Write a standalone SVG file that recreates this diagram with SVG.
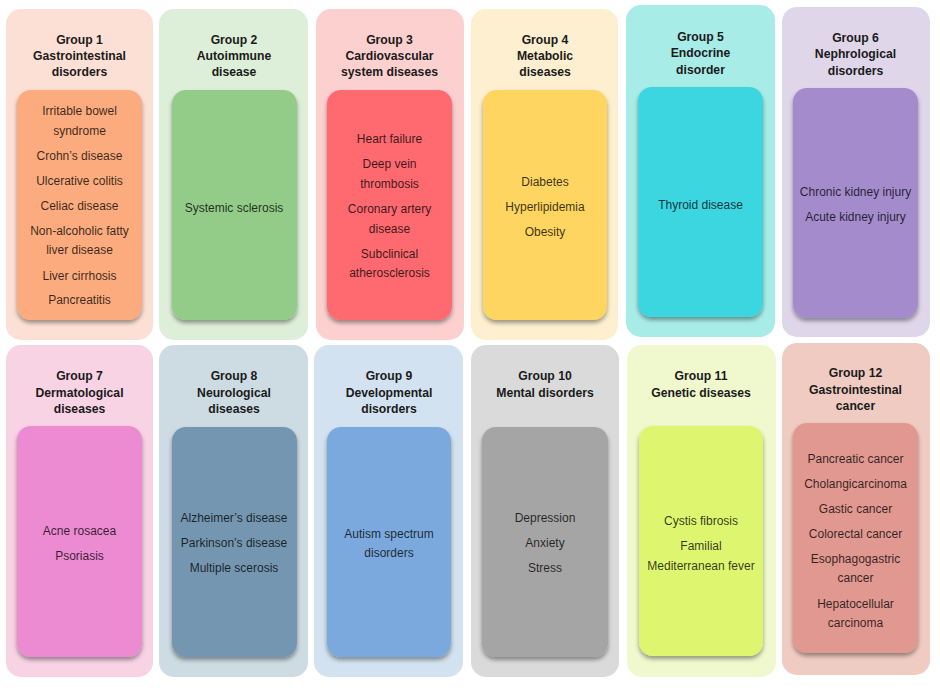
<svg xmlns="http://www.w3.org/2000/svg" width="940" height="688" viewBox="0 0 940 688">
<style>
.outer{stroke:none}
.inner{filter:url(#sh)}
text{font-family:"Liberation Sans",Arial,sans-serif;text-anchor:middle;dominant-baseline:central}
.t{font-weight:bold;font-size:12.2px;fill:#1a1a1a}
.b{font-size:12px;fill:#000;fill-opacity:0.78}
</style>
<defs>
<filter id="sh" x="-10%" y="-10%" width="120%" height="120%">
<feDropShadow dx="0" dy="3" stdDeviation="2" flood-color="#000" flood-opacity="0.38"/>
</filter>
</defs>
<rect width="940" height="688" fill="#ffffff"/>

<g id="g1">
<rect class="outer" x="6" y="9" width="147" height="331" rx="15" fill="#fde0d5"/>
<rect class="inner" x="17" y="90" width="125" height="230" rx="14" fill="#fbab7d"/>
<text class="t" x="79.5" y="40">Group 1</text>
<text class="t" x="79.5" y="56">Gastrointestinal</text>
<text class="t" x="79.5" y="72">disorders</text>
<text class="b" x="79.5" y="111">Irritable bowel</text>
<text class="b" x="79.5" y="131">syndrome</text>
<text class="b" x="79.5" y="156">Crohn’s disease</text>
<text class="b" x="79.5" y="181">Ulcerative colitis</text>
<text class="b" x="79.5" y="206">Celiac disease</text>
<text class="b" x="79.5" y="231">Non-alcoholic fatty</text>
<text class="b" x="79.5" y="250">liver disease</text>
<text class="b" x="79.5" y="276">Liver cirrhosis</text>
<text class="b" x="79.5" y="300">Pancreatitis</text>
</g>

<g id="g2">
<rect class="outer" x="159" y="9" width="149" height="331" rx="15" fill="#ddefd9"/>
<rect class="inner" x="172" y="90" width="125" height="230" rx="14" fill="#93cb88"/>
<text class="t" x="234" y="40">Group 2</text>
<text class="t" x="234" y="56">Autoimmune</text>
<text class="t" x="234" y="72">disease</text>
<text class="b" x="234" y="208">Systemic sclerosis</text>
</g>

<g id="g3">
<rect class="outer" x="316" y="9" width="148" height="331" rx="15" fill="#fdd0d0"/>
<rect class="inner" x="327" y="90" width="125" height="230" rx="14" fill="#fe6a6f"/>
<text class="t" x="389.5" y="40">Group 3</text>
<text class="t" x="389.5" y="56">Cardiovascular</text>
<text class="t" x="389.5" y="72">system diseases</text>
<text class="b" x="389.5" y="139">Heart failure</text>
<text class="b" x="389.5" y="164">Deep vein</text>
<text class="b" x="389.5" y="184">thrombosis</text>
<text class="b" x="389.5" y="209">Coronary artery</text>
<text class="b" x="389.5" y="229">disease</text>
<text class="b" x="389.5" y="254">Subclinical</text>
<text class="b" x="389.5" y="273">atherosclerosis</text>
</g>

<g id="g4">
<rect class="outer" x="471" y="9" width="147" height="331" rx="15" fill="#fdefcf"/>
<rect class="inner" x="483" y="90" width="124" height="230" rx="14" fill="#fdd561"/>
<text class="t" x="545" y="40">Group 4</text>
<text class="t" x="545" y="56">Metabolic</text>
<text class="t" x="545" y="72">diseases</text>
<text class="b" x="545" y="182">Diabetes</text>
<text class="b" x="545" y="207">Hyperlipidemia</text>
<text class="b" x="545" y="232">Obesity</text>
</g>

<g id="g5">
<rect class="outer" x="626" y="5" width="149" height="332" rx="15" fill="#a8ece8"/>
<rect class="inner" x="638" y="87" width="125" height="230" rx="14" fill="#3ad6e0"/>
<text class="t" x="700.5" y="37">Group 5</text>
<text class="t" x="700.5" y="53">Endocrine</text>
<text class="t" x="700.5" y="70">disorder</text>
<text class="b" x="700.5" y="205">Thyroid disease</text>
</g>

<g id="g6">
<rect class="outer" x="782" y="7" width="148" height="330" rx="15" fill="#dfd6ea"/>
<rect class="inner" x="793" y="88" width="125" height="230" rx="14" fill="#a48ccc"/>
<text class="t" x="855.5" y="38">Group 6</text>
<text class="t" x="855.5" y="54">Nephrological</text>
<text class="t" x="855.5" y="71">disorders</text>
<text class="b" x="855.5" y="192">Chronic kidney injury</text>
<text class="b" x="855.5" y="217">Acute kidney injury</text>
</g>

<g id="g7">
<rect class="outer" x="6" y="345" width="147" height="332" rx="15" fill="#f7d3e4"/>
<rect class="inner" x="17" y="426" width="125" height="231" rx="14" fill="#ec8ad2"/>
<text class="t" x="79.5" y="376">Group 7</text>
<text class="t" x="79.5" y="393">Dermatological</text>
<text class="t" x="79.5" y="409">diseases</text>
<text class="b" x="79.5" y="531">Acne rosacea</text>
<text class="b" x="79.5" y="556">Psoriasis</text>
</g>

<g id="g8">
<rect class="outer" x="159" y="345" width="149" height="332" rx="15" fill="#cddbe3"/>
<rect class="inner" x="172" y="427" width="125" height="230" rx="14" fill="#7596b1"/>
<text class="t" x="234" y="376">Group 8</text>
<text class="t" x="234" y="393">Neurological</text>
<text class="t" x="234" y="409">diseases</text>
<text class="b" x="234" y="518">Alzheimer’s disease</text>
<text class="b" x="234" y="543">Parkinson’s disease</text>
<text class="b" x="234" y="568">Multiple scerosis</text>
</g>

<g id="g9">
<rect class="outer" x="314" y="345" width="149" height="332" rx="15" fill="#d3e2f0"/>
<rect class="inner" x="327" y="427" width="124" height="230" rx="14" fill="#7ca9dd"/>
<text class="t" x="389" y="376">Group 9</text>
<text class="t" x="389" y="393">Developmental</text>
<text class="t" x="389" y="409">disorders</text>
<text class="b" x="389" y="534">Autism spectrum</text>
<text class="b" x="389" y="553">disorders</text>
</g>

<g id="g10">
<rect class="outer" x="471" y="345" width="148" height="332" rx="15" fill="#dadada"/>
<rect class="inner" x="482" y="427" width="126" height="230" rx="14" fill="#a5a5a5"/>
<text class="t" x="545" y="376">Group 10</text>
<text class="t" x="545" y="393">Mental disorders</text>
<text class="b" x="545" y="518">Depression</text>
<text class="b" x="545" y="543">Anxiety</text>
<text class="b" x="545" y="568">Stress</text>
</g>

<g id="g11">
<rect class="outer" x="627" y="345" width="149" height="332" rx="15" fill="#f0f8cd"/>
<rect class="inner" x="639" y="426" width="124" height="230" rx="14" fill="#def56f"/>
<text class="t" x="701" y="376">Group 11</text>
<text class="t" x="701" y="393">Genetic diseases</text>
<text class="b" x="701" y="521">Cystis fibrosis</text>
<text class="b" x="701" y="546">Familial</text>
<text class="b" x="701" y="566">Mediterranean fever</text>
</g>

<g id="g12">
<rect class="outer" x="782" y="343" width="148" height="332" rx="15" fill="#f0cbc1"/>
<rect class="inner" x="793" y="423" width="125" height="230" rx="14" fill="#e09891"/>
<text class="t" x="855.5" y="373">Group 12</text>
<text class="t" x="855.5" y="390">Gastrointestinal</text>
<text class="t" x="855.5" y="406">cancer</text>
<text class="b" x="855.5" y="459">Pancreatic cancer</text>
<text class="b" x="855.5" y="484">Cholangicarcinoma</text>
<text class="b" x="855.5" y="509">Gastic cancer</text>
<text class="b" x="855.5" y="534">Colorectal cancer</text>
<text class="b" x="855.5" y="559">Esophagogastric</text>
<text class="b" x="855.5" y="578">cancer</text>
<text class="b" x="855.5" y="604">Hepatocellular</text>
<text class="b" x="855.5" y="623">carcinoma</text>
</g>

<g id="connectors"></g>
</svg>
